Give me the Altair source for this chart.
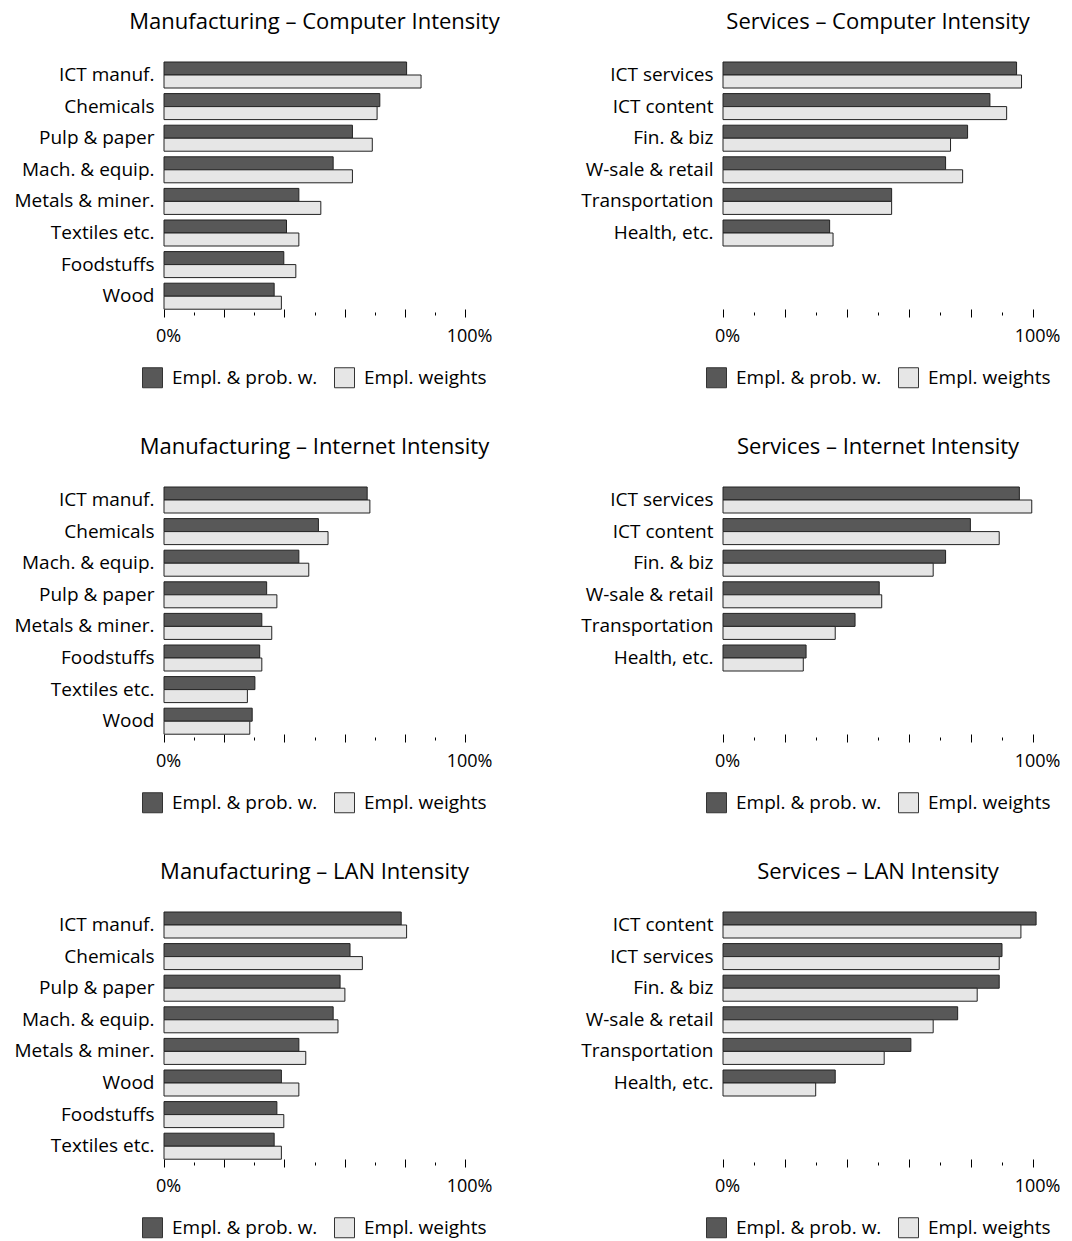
import altair as alt
import pandas as pd

FONT = "Open Sans"
SERIES = ["Empl. & prob. w.", "Empl. weights"]
COLORS = ["#585858", "#e6e6e6"]

# Manufacturing – Computer Intensity
mfg_comp_cats = ["ICT manuf.", "Chemicals", "Pulp & paper", "Mach. & equip.",
                 "Metals & miner.", "Textiles etc.", "Foodstuffs", "Wood"]
mfg_comp_prob = [0.806, 0.717, 0.626, 0.562, 0.448, 0.407, 0.398, 0.366]
mfg_comp_empl = [0.854, 0.708, 0.692, 0.626, 0.521, 0.448, 0.438, 0.390]

# Services – Computer Intensity
svc_comp_cats = ["ICT services", "ICT content", "Fin. & biz", "W-sale & retail",
                 "Transportation", "Health, etc."]
svc_comp_prob = [0.947, 0.861, 0.789, 0.718, 0.544, 0.344]
svc_comp_empl = [0.963, 0.915, 0.734, 0.773, 0.544, 0.355]

# Manufacturing – Internet Intensity
mfg_net_cats = ["ICT manuf.", "Chemicals", "Mach. & equip.", "Pulp & paper",
                "Metals & miner.", "Foodstuffs", "Textiles etc.", "Wood"]
mfg_net_prob = [0.675, 0.513, 0.448, 0.341, 0.325, 0.318, 0.302, 0.293]
mfg_net_empl = [0.684, 0.545, 0.481, 0.375, 0.358, 0.325, 0.277, 0.285]

# Services – Internet Intensity
svc_net_cats = ["ICT services", "ICT content", "Fin. & biz", "W-sale & retail",
                "Transportation", "Health, etc."]
svc_net_prob = [0.956, 0.798, 0.718, 0.504, 0.426, 0.268]
svc_net_empl = [0.996, 0.891, 0.678, 0.512, 0.362, 0.259]

# Manufacturing – LAN Intensity
mfg_lan_cats = ["ICT manuf.", "Chemicals", "Pulp & paper", "Mach. & equip.",
                "Metals & miner.", "Wood", "Foodstuffs", "Textiles etc."]
mfg_lan_prob = [0.788, 0.618, 0.585, 0.562, 0.448, 0.390, 0.375, 0.366]
mfg_lan_empl = [0.806, 0.659, 0.601, 0.578, 0.471, 0.448, 0.398, 0.390]

# Services – LAN Intensity
svc_lan_cats = ["ICT content", "ICT services", "Fin. & biz", "W-sale & retail",
                "Transportation", "Health, etc."]
svc_lan_prob = [1.010, 0.900, 0.891, 0.757, 0.606, 0.362]
svc_lan_empl = [0.961, 0.891, 0.820, 0.678, 0.520, 0.299]

TICKS = [0.0, 0.1, 0.2, 0.3, 0.4, 0.5, 0.6, 0.7, 0.8, 0.9, 1.0]

STEP = 31.6
PAD = 0.177
HEIGHT = 247
YEXT = 150
MAJOR_TEST = "round(datum.value * 10) % 2 == 0"


def panel(title, cats, prob, empl, width, legend_x):
    df = pd.DataFrame({
        "sector": cats + cats,
        "series": [SERIES[0]] * len(cats) + [SERIES[1]] * len(cats),
        "value": prob + empl,
    })
    rng = STEP * (len(cats) - PAD)
    xscale = alt.Scale(domain=[0, 1], nice=False, zero=True)
    yscale = alt.Scale(domain=cats, range=[0, rng], paddingInner=PAD, paddingOuter=0)
    yaxis = alt.Axis(domain=False, ticks=False, labelPadding=10,
                     labelFontSize=19, labelFont=FONT, labelColor="black",
                     labelLimit=300, minExtent=YEXT, maxExtent=YEXT)
    xaxis = alt.Axis(
        values=TICKS, format=".0%",
        labelExpr="datum.value == 0 || datum.value == 1 ? datum.label : ''",
        domain=False, grid=False,
        tickSize={"condition": {"test": MAJOR_TEST, "value": 8}, "value": 6},
        tickDash={"condition": {"test": MAJOR_TEST, "value": [8, 0]}, "value": [0, 3, 3]},
        tickColor="black", tickWidth=1, labelFontSize=18, labelFont=FONT,
        labelColor="black", labelPadding=10, labelOffset=4, labelFlush=False)
    return alt.Chart(df).mark_bar(stroke="#222222", strokeWidth=1).encode(
        x=alt.X("value:Q", scale=xscale, title=None, axis=xaxis),
        y=alt.Y("sector:N", sort=cats, title=None, scale=yscale, axis=yaxis),
        yOffset=alt.YOffset("series:N", sort=SERIES,
                            scale=alt.Scale(domain=SERIES, paddingInner=0, paddingOuter=0)),
        color=alt.Color("series:N", sort=SERIES,
                        scale=alt.Scale(domain=SERIES, range=COLORS),
                        legend=alt.Legend(title=None, orient="none", legendX=legend_x,
                                          legendY=305, direction="horizontal",
                                          symbolType="square", symbolSize=400,
                                          symbolStrokeColor="#333333", symbolStrokeWidth=1,
                                          labelFontSize=19, labelFont=FONT,
                                          labelColor="black", columnPadding=14,
                                          labelOffset=9, padding=0)),
    ).properties(
        width=width, height=HEIGHT,
        title=alt.TitleParams(title, fontSize=22, font=FONT, fontWeight="normal",
                              anchor="middle", frame="group", offset=28, color="black"),
    )


MW, SW = 301, 310
panels = [
    panel("Manufacturing – Computer Intensity", mfg_comp_cats, mfg_comp_prob, mfg_comp_empl, MW, -22),
    panel("Services – Computer Intensity", svc_comp_cats, svc_comp_prob, svc_comp_empl, SW, -17),
    panel("Manufacturing – Internet Intensity", mfg_net_cats, mfg_net_prob, mfg_net_empl, MW, -22),
    panel("Services – Internet Intensity", svc_net_cats, svc_net_prob, svc_net_empl, SW, -17),
    panel("Manufacturing – LAN Intensity", mfg_lan_cats, mfg_lan_prob, mfg_lan_empl, MW, -22),
    panel("Services – LAN Intensity", svc_lan_cats, svc_lan_prob, svc_lan_empl, SW, -17),
]

chart = alt.concat(*panels, columns=2, spacing={"row": 45, "column": 73}).resolve_scale(
    color="independent"
).properties(
    padding={"left": 5, "top": 2, "right": 0, "bottom": 0},
    background="white",
).configure_view(stroke=None)

chart.save("out.html", embed_options={"renderer": "svg", "actions": False})
